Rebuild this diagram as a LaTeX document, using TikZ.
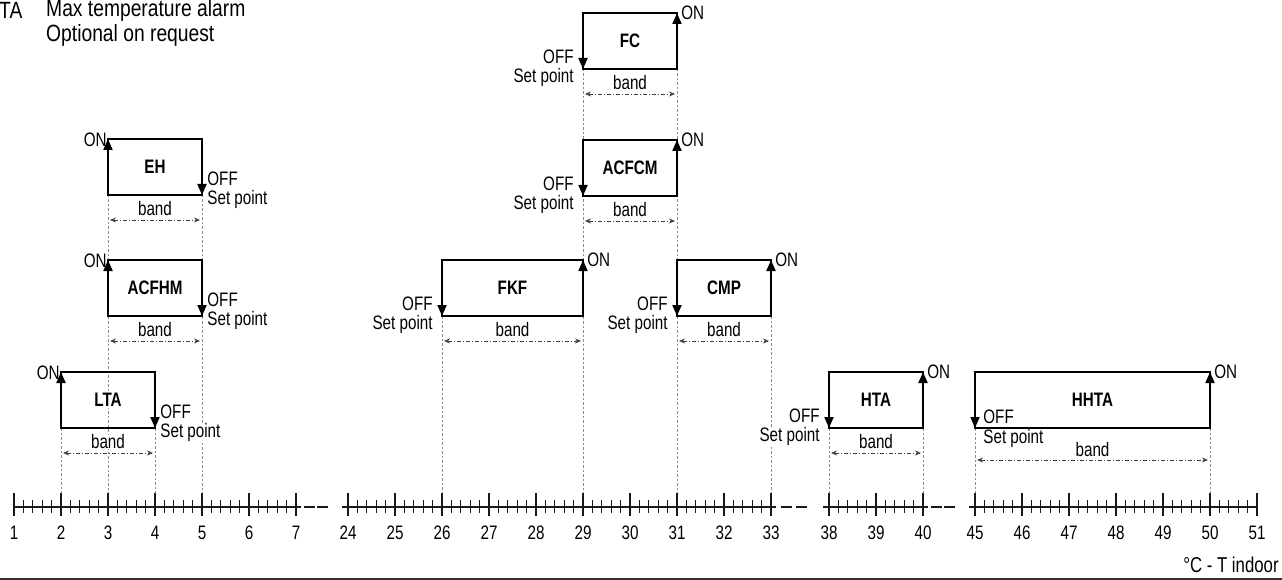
\documentclass[tikz,border=0pt]{standalone}
\usepackage{fontspec}
\newfontfamily\lab{Liberation Sans}[FakeStretch=0.78]
\newfontfamily\labw{Liberation Sans}[FakeStretch=0.82]
\usetikzlibrary{arrows.meta}
\pgfdeclarelayer{bg}
\pgfsetlayers{bg,main}
\tikzset{
  ctlbox/.style={draw, line width=1.9pt, minimum height=56pt, inner sep=0pt, outer sep=0pt},
  lbl/.style={font=\lab\bfseries\fontsize{19.5}{21}\selectfont, fill=white, inner sep=1pt},
  txt/.style={font=\lab\fontsize{19.5}{21}\selectfont, inner sep=0.2pt, fill=white},
  num/.style={font=\lab\fontsize{19.5}{21}\selectfont, inner sep=0pt},
  guide/.style={draw=black!45, line width=0.7pt, dash pattern=on 2.5pt off 2pt},
  bandarr/.style={draw=black!75, line width=0.75pt, dash pattern=on 4pt off 2pt on 1pt off 2pt,
     {Stealth[length=6pt,width=5pt]}-{Stealth[length=6pt,width=5pt]}},
  onoff/.style={draw, line width=1.9pt, -{Triangle[length=11pt,width=9pt]}},
  axisline/.style={draw=black!90, line width=1.1pt},
}
% ON left, OFF right
\newcommand\ctlL[5]{%
  \node[ctlbox, minimum width={(#3-#2)*1pt}, anchor=north west] (#1) at (#2,#4) {};
  \node[lbl] (#1-t) at (#1.center) {#5};
  \node[txt, anchor=east] (#1-on) at ([xshift=-1pt,yshift=-1pt]#1.north west) {ON};
  \node[txt, anchor=west] (#1-off) at ([xshift=5pt,yshift=16pt]#1.south east) {OFF};
  \node[txt, anchor=west] (#1-sp) at ([xshift=5pt,yshift=-4pt]#1.south east) {Set point};
  \node[txt] (#1-b) at ([yshift=-14pt]#1.south) {band};
  \draw[bandarr] ([xshift=2pt,yshift=-25pt]#1.south west) -- ([xshift=-2pt,yshift=-25pt]#1.south east);
  \draw[onoff] ([yshift=-14pt]#1.north west) -- (#1.north west);
  \draw[onoff] ([yshift=14pt]#1.south east) -- (#1.south east);
}
% OFF left, ON right
\newcommand\ctlR[5]{%
  \node[ctlbox, minimum width={(#3-#2)*1pt}, anchor=north west] (#1) at (#2,#4) {};
  \node[lbl] (#1-t) at (#1.center) {#5};
  \node[txt, anchor=west] (#1-on) at ([xshift=4pt]#1.north east) {ON};
  \node[txt, anchor=east] (#1-off) at ([xshift=-9pt,yshift=12pt]#1.south west) {OFF};
  \node[txt, anchor=east] (#1-sp) at ([xshift=-9pt,yshift=-8pt]#1.south west) {Set point};
  \node[txt] (#1-b) at ([yshift=-14pt]#1.south) {band};
  \draw[bandarr] ([xshift=2pt,yshift=-25pt]#1.south west) -- ([xshift=-2pt,yshift=-25pt]#1.south east);
  \draw[onoff] ([yshift=14pt]#1.south west) -- (#1.south west);
  \draw[onoff] ([yshift=-14pt]#1.north east) -- (#1.north east);
}
\begin{document}
\begin{tikzpicture}[x=1pt,y=-1pt]
\useasboundingbox (0,0) rectangle (1282,580);

% legend text (top left)
\node[font=\labw\fontsize{23.5}{25}\selectfont, anchor=west, inner sep=0pt] (lgA) at (-1,10) {TA};
\node[font=\labw\fontsize{23.5}{25}\selectfont, anchor=west, inner sep=0pt] (lgB) at (46,10) {Max temperature alarm};
\node[font=\labw\fontsize{23.5}{25}\selectfont, anchor=west, inner sep=0pt] (lgC) at (46,35) {Optional on request};

% boxes
\ctlL{eh}{108}{202}{139}{EH}
\ctlL{acfhm}{108}{202}{260}{ACFHM}
\ctlL{lta}{61}{155}{372}{LTA}
\ctlR{fc}{583}{677}{13}{FC}
\ctlR{acfcm}{583}{677}{140}{ACFCM}
\ctlR{fkf}{442}{583}{260}{FKF}
\ctlR{cmp}{677}{771}{260}{CMP}
\ctlR{hta}{829}{923}{372}{HTA}

% HHTA (labels inside)
\node[ctlbox, minimum width=235pt, anchor=north west] (hhta) at (975,372) {};
\node[lbl] (hhta-t) at (hhta.center) {HHTA};
\node[txt, anchor=west] (hhta-on) at ([xshift=4pt]hhta.north east) {ON};
\node[txt, anchor=west] (hhta-off) at ([xshift=8pt,yshift=11pt]hhta.south west) {OFF};
\node[txt, anchor=west] (hhta-sp) at ([xshift=8pt,yshift=-10pt]hhta.south west) {Set point};
\node[txt] (hhta-b) at ([yshift=-22pt]hhta.south) {band};
\draw[bandarr] ([xshift=2pt,yshift=-32pt]hhta.south west) -- ([xshift=-2pt,yshift=-32pt]hhta.south east);
\draw[onoff] ([yshift=14pt]hhta.south west) -- (hhta.south west);
\draw[onoff] ([yshift=-14pt]hhta.north east) -- (hhta.north east);

% axis
\coordinate (axtop) at (0,494);
\foreach \a/\b/\st in {1/7/14,24/33/348,38/40/829,45/51/975}{
  \pgfmathtruncatemacro\nn{(\b-\a)*5}
  \draw[axisline] (\st,507) -- ({\st+(\b-\a)*47},507);
  \foreach \i in {0,...,\nn}{
    \pgfmathsetmacro\xx{\st+\i*9.4}
    \pgfmathtruncatemacro\mm{mod(\i,5)}
    \ifnum\mm=0
      \draw[axisline] (\xx,493) -- (\xx,516);
      \pgfmathtruncatemacro\vv{\a+\i/5}
      \node[num] (n\vv) at (\xx,533) {\vv};
    \else
      \draw[axisline] (\xx,500) -- (\xx,513);
    \fi
  }
}
\foreach \p/\q in {296/348,771/829,923/975}{
  \pgfmathsetmacro\gg{(\q-\p-44)/3}
  \draw[axisline] (\p,507) -- ({\p+5},507);
  \draw[axisline] ({\p+5+\gg},507) -- ({\p+16+\gg},507);
  \draw[axisline] ({\p+16+2*\gg},507) -- ({\p+27+2*\gg},507);
  \draw[axisline] ({\q-6},507) -- (\q,507);
}

% guides
\begin{pgfonlayer}{bg}
  \draw[guide] (lta.south west) -- (lta.south west |- axtop);
  \draw[guide] (lta.south east) -- (lta.south east |- axtop);
  \draw[guide] (eh.south west) -- (eh.south west |- axtop);
  \draw[guide] (eh.south east) -- (eh.south east |- axtop);
  \draw[guide] (fc.south west) -- (fc.south west |- axtop);
  \draw[guide] (fc.south east) -- (fc.south east |- axtop);
  \draw[guide] (fkf.south west) -- (fkf.south west |- axtop);
  \draw[guide] (cmp.south east) -- (cmp.south east |- axtop);
  \draw[guide] (hta.south west) -- (hta.south west |- axtop);
  \draw[guide] (hta.south east) -- (hta.south east |- axtop);
  \draw[guide] (hhta.south west) -- (hhta.south west |- axtop);
  \draw[guide] (hhta.south east) -- (hhta.south east |- axtop);
\end{pgfonlayer}

% unit label and bottom rule
\node[txt, font=\lab\fontsize{21.5}{23}\selectfont, anchor=east] (unit) at (1279,565) {°C - T indoor};
\draw[line width=2.5pt, black!80] (0,579) -- (1282,579);
\end{tikzpicture}
\end{document}
